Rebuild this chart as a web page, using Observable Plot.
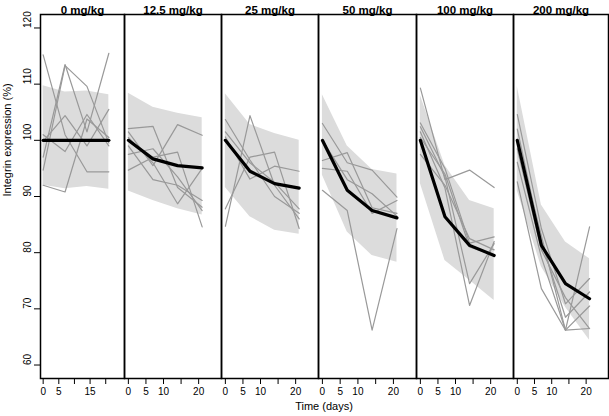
<!DOCTYPE html>
<html><head><meta charset="utf-8">
<script src="https://cdn.jsdelivr.net/npm/d3@7"></script>
<script src="https://cdn.jsdelivr.net/npm/@observablehq/plot@0.6"></script>
<style>
body{margin:0;background:#fff;}
#chart{position:relative;width:609px;height:416px;font-family:"Liberation Sans",Arial,Helvetica,sans-serif;}
#chart svg{position:absolute;top:0;overflow:visible;}
#xlab{position:absolute;left:40px;width:568px;top:401px;text-align:center;font-size:11px;line-height:11px;}
</style></head><body><div id="chart"></div>
<script>
// ---- data ----
const days = [0, 7, 14, 21];
const doses = ["0 mg/kg", "12.5 mg/kg", "25 mg/kg", "50 mg/kg", "100 mg/kg", "200 mg/kg"];
const meanByDose = [
  [100, 100, 100, 100],
  [100, 96.7, 95.5, 95.1],
  [100, 94.5, 92.3, 91.5],
  [100, 91.1, 87.5, 86.2],
  [100, 86.4, 81.3, 79.5],
  [100, 81.3, 74.5, 71.8]
];
const bandHighByDose = [
  [109.7, 108.6, 108.8, 108.1],
  [108.4, 105.9, 104.8, 104.0],
  [108.3, 102.8, 101.2, 100.0],
  [108.1, 99.0, 94.8, 94.0],
  [108.0, 95.5, 89.3, 87.8],
  [109.6, 88.5, 81.9, 78.9]
];
const bandLowByDose = [
  [92.0, 91.4, 91.8, 91.3],
  [91.0, 89.3, 87.8, 86.7],
  [91.6, 86.4, 84.0, 83.3],
  [93.8, 83.7, 79.5, 78.3],
  [92.3, 78.6, 75.1, 71.5],
  [91.0, 77.5, 70.3, 64.4]
];
const subjectsByDose = [
  [[115.2, 101.0, 94.4, 94.4], [94.7, 113.3, 109.6, 99.5], [92.0, 90.8, 103.8, 100.5],
   [97.0, 113.5, 101.5, 115.5], [99.8, 104.4, 99.0, 105.5], [101.0, 98.0, 104.6, 99.0]],
  [[102.1, 102.5, 91.6, 88.1], [101.5, 95.5, 102.8, 100.9], [94.7, 97.0, 97.9, 84.6],
   [99.0, 93.0, 92.0, 89.3], [100.5, 96.0, 88.7, 95.0], [97.5, 98.5, 93.5, 87.5]],
  [[84.7, 104.4, 92.0, 86.0], [103.7, 96.5, 90.0, 87.0], [87.8, 97.0, 97.9, 84.3],
   [100.6, 93.1, 95.4, 94.5], [101.5, 96.0, 92.5, 87.8]],
  [[103.0, 96.0, 94.7, 89.9], [96.4, 97.8, 88.0, 87.0], [91.1, 87.5, 66.2, 84.3],
   [95.0, 94.5, 87.0, 89.3], [100.0, 93.0, 90.5, 86.5]],
  [[109.3, 93.0, 94.7, 91.6], [103.1, 95.0, 81.7, 82.8], [102.4, 93.5, 74.5, 81.6],
   [101.5, 91.5, 70.6, 82.0], [97.5, 92.0, 82.5, 80.5], [100.5, 94.0, 81.0, 79.5]],
  [[104.6, 84.3, 70.9, 75.4], [96.1, 79.2, 66.2, 84.6], [92.6, 73.6, 66.2, 66.5],
   [102.0, 82.0, 68.5, 73.0], [98.5, 80.5, 72.0, 66.5], [100.0, 83.0, 66.2, 70.5]]
];
const xTicks = [0, 5, 10, 15, 20];
const xTickLabelsFirst = [0, 5, 15];
const xTickLabels = [0, 5, 10, 20];
const yTicks = [60, 70, 80, 90, 100, 110, 120];
const yLabel = "Integrin expression (%)";
const xLabel = "Time (days)";

// ---- layout ----
const edges = [40, 124, 221, 318, 416, 513, 608];
const chart = document.getElementById("chart");

doses.forEach((dose, i) => {
  const left = i === 0 ? 0 : edges[i];
  const right = edges[i + 1];
  const ml = i === 0 ? 40 : 0;
  const xdom = i === 0 ? [-0.85, 26.0] : [-1.1, 26.5];
  const labs = i === 0 ? xTickLabelsFirst : xTickLabels;
  const band = days.map((d, k) => ({day: d, lo: bandLowByDose[i][k], hi: bandHighByDose[i][k]}));
  const mean = days.map((d, k) => ({day: d, v: meanByDose[i][k]}));
  const subj = subjectsByDose[i].flatMap((s, j) => days.map((d, k) => ({id: j, day: d, v: s[k]})));
  const marks = [
    Plot.areaY(band, {x: "day", y1: "lo", y2: "hi", fill: "#dcdcdc"}),
    Plot.line(subj, {x: "day", y: "v", z: "id", stroke: "#999", strokeWidth: 1.2}),
    Plot.line(mean, {x: "day", y: "v", stroke: "#000", strokeWidth: 3.2}),
    Plot.frame({stroke: "#000", strokeWidth: 1.5}),
    Plot.axisX({ticks: xTicks, tickSize: 6, tickPadding: 3, fontSize: 10, label: null,
      tickFormat: d => labs.includes(d) ? String(d) : ""}),
    Plot.text([dose], {frameAnchor: "top", dy: -9, text: d => d, fontWeight: "bold", fontSize: 11.5})
  ];
  if (i === 0) {
    marks.push(
      Plot.axisY({ticks: yTicks, tickSize: 6, label: null, tickFormat: () => ""}),
      Plot.text(yTicks, {y: d => d, text: d => String(d), frameAnchor: "left", dx: -13, rotate: -90, fontSize: 10}),
      Plot.text([yLabel], {frameAnchor: "left", dx: -33, rotate: -90, text: d => d, fontSize: 11})
    );
  }
  const p = Plot.plot({
    width: right - left, height: 416,
    marginLeft: ml, marginRight: 0, marginTop: 14, marginBottom: 38,
    x: {domain: xdom},
    y: {domain: [57.6, 122.4], axis: i === 0 ? undefined : null},
    style: {fontFamily: '"Liberation Sans", Arial, Helvetica, sans-serif', fontSize: "10px", background: "transparent", overflow: "visible", color: "#000"},
    marks
  });
  p.style.left = left + "px";
  chart.append(p);
});
const xl = document.createElement("div");
xl.id = "xlab";
xl.textContent = xLabel;
chart.append(xl);
</script></body></html>
